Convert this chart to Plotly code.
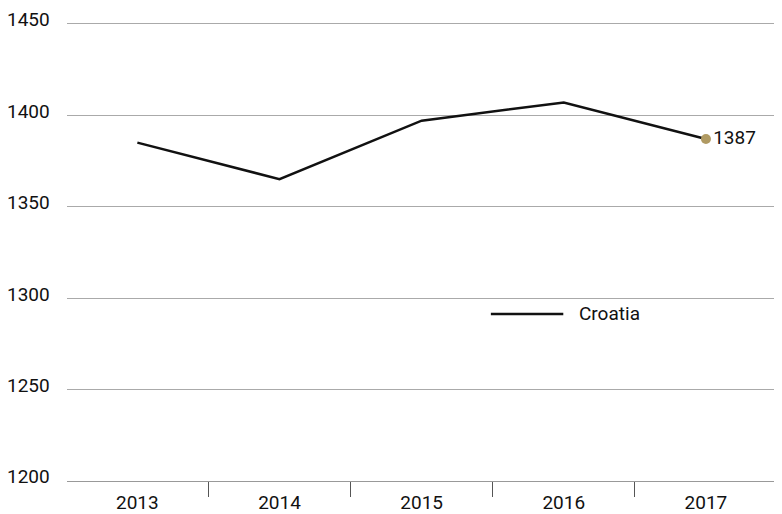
import plotly.graph_objects as go

years = ["2013", "2014", "2015", "2016", "2017"]
croatia = [1385, 1365, 1397, 1407, 1387]
series_name = "Croatia"
y_ticks = [1200, 1250, 1300, 1350, 1400, 1450]

FONT = "Roboto"
FS = 19
fig = go.Figure()
fig.add_trace(go.Scatter(x=years, y=croatia, mode="lines",
                         line=dict(color="#111111", width=2.5),
                         name=series_name, showlegend=False))
fig.add_trace(go.Scatter(x=[years[-1]], y=[croatia[-1]], mode="markers+text",
                         marker=dict(color="#b09a62", size=10),
                         text=[str(croatia[-1])], textposition="middle right",
                         textfont=dict(size=FS, color="#111111", family=FONT),
                         showlegend=False, cliponaxis=False))

# y tick labels sit just above their grid lines
for v in y_ticks:
    fig.add_annotation(xref="paper", yref="y", x=0, y=v, text=str(v),
                       showarrow=False, xanchor="right", yanchor="middle",
                       xshift=-15, yshift=4,
                       font=dict(size=FS, color="#111111", family=FONT))

# legend drawn manually
fig.add_shape(type="line", xref="paper", yref="paper", x0=0.597, x1=0.699,
              y0=0.364, y1=0.364, line=dict(color="#111111", width=2.5))
fig.add_annotation(xref="paper", yref="paper", x=0.718, y=0.364, text=series_name,
                   showarrow=False, xanchor="left", yanchor="middle",
                   font=dict(size=FS, color="#111111", family=FONT))

fig.update_layout(
    width=774, height=506,
    margin=dict(l=59, r=5, t=14, b=33, autoexpand=False),
    paper_bgcolor="white", plot_bgcolor="white",
    font=dict(family=FONT, size=FS, color="#111111"),
    showlegend=False,
    xaxis=dict(type="category", range=[-0.495, 4.5], tickson="boundaries",
               ticks="outside", ticklen=15, tickcolor="#555555", tickwidth=1,
               showgrid=False, showline=True, linecolor="#999999", linewidth=1,
               ticklabelstandoff=4, tickfont=dict(size=FS), automargin=False),
    yaxis=dict(range=[1199.9, 1451], tickvals=y_ticks, showgrid=True,
               gridcolor="#aaaaaa", gridwidth=1, zeroline=False,
               ticks="", showticklabels=False, automargin=False),
)
fig.write_html("out.html")
